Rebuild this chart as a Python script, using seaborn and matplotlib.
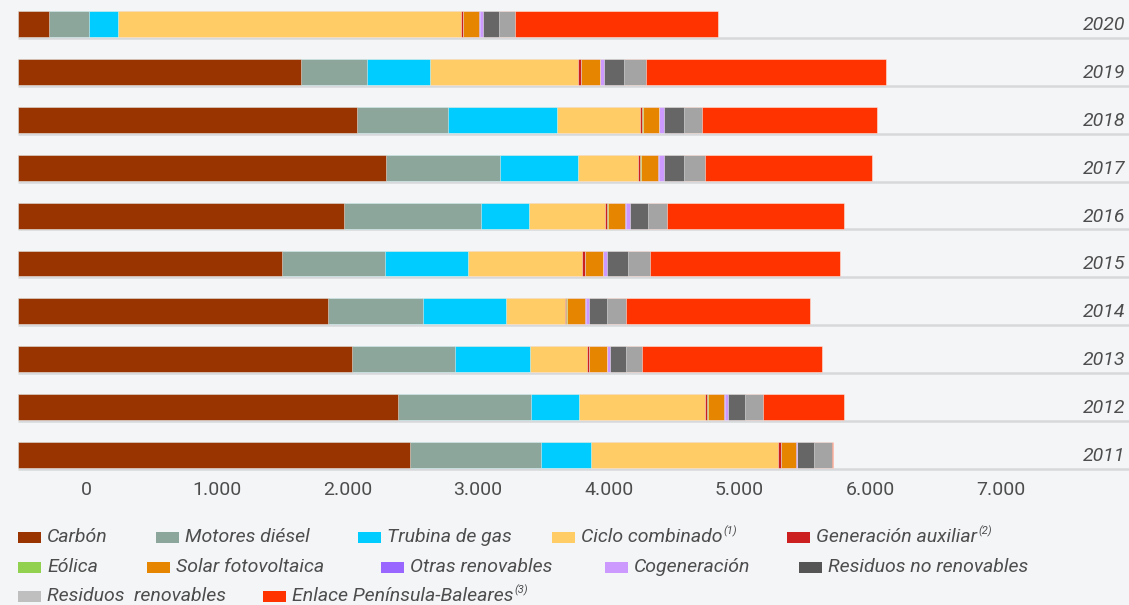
import numpy as np
import pandas as pd
import matplotlib
matplotlib.use("Agg")
import matplotlib.pyplot as plt
import matplotlib.transforms as mtransforms
from matplotlib.patches import Rectangle
import seaborn as sns

# years, top to bottom
years = ["2020", "2019", "2018", "2017", "2016", "2015", "2014", "2013", "2012", "2011"]

# GWh per source
carbon = [236, 2165, 2596, 2815, 2495, 2016, 2372, 2552, 2907, 2999]
diesel = [308, 505, 694, 869, 1045, 790, 725, 795, 1015, 1005]
gas = [224, 479, 830, 602, 373, 637, 633, 567, 370, 383]
ciclo = [2622, 1138, 641, 461, 580, 874, 457, 439, 966, 1427]
auxiliar = [12, 18, 13, 14, 13, 18, 8, 13, 13, 22]
eolica = [5, 5, 5, 5, 5, 5, 5, 5, 5, 5]
solar = [122, 140, 123, 132, 136, 132, 141, 132, 127, 114]
otras = [3, 3, 3, 3, 3, 3, 3, 3, 3, 3]
cogen = [22, 32, 40, 40, 31, 32, 23, 23, 23, 5]
resid_nr = [123, 154, 149, 154, 141, 162, 141, 123, 132, 127]
resid_r = [127, 162, 141, 158, 141, 163, 140, 123, 136, 136]
enlace = [1551, 1836, 1340, 1278, 1357, 1454, 1410, 1379, 624, 8]

series_names = ["Carbón", "Motores diésel", "Trubina de gas", "Ciclo combinado",
                "Generación auxiliar", "Eólica", "Solar fotovoltaica", "Otras renovables",
                "Cogeneración", "Residuos no renovables", "Residuos  renovables",
                "Enlace Península-Baleares"]
series_values = [carbon, diesel, gas, ciclo, auxiliar, eolica, solar, otras,
                 cogen, resid_nr, resid_r, enlace]
bar_colors = ["#993300", "#8ca69b", "#00ccff", "#ffcc66", "#cc2020", "#92d050",
              "#e68600", "#9966ff", "#cc99ff", "#666666", "#a4a4a4", "#ff3300"]
legend_colors = bar_colors[:9] + ["#555555", "#bfbfbf", "#ff3300"]
notes = {"Ciclo combinado": "(1)", "Generación auxiliar": "(2)",
         "Enlace Península-Baleares": "(3)"}

tick_values = [0, 1000, 2000, 3000, 4000, 5000, 6000, 7000]
tick_labels = ["0", "1.000", "2.000", "3.000", "4.000", "5.000", "6.000", "7.000"]

# ---- layout
W, H = 1129, 605
BG = "#f4f5f7"
TXT = "#4d4d4d"
AXIS_ZERO = 520   # tick "0" sits right of where the bars start in the original

sns.set_theme(style="white")
plt.rcParams["font.family"] = ["Roboto", "DejaVu Sans"]

fig = plt.figure(figsize=(W / 100, H / 100), dpi=100, facecolor=BG)
ax = fig.add_axes([0, 1 - 480 / H, 1, 480 / H], facecolor=BG)

df = pd.DataFrame({"year": years})
cum = np.zeros(len(years))
cum_cols = []
for name, vals in zip(series_names, series_values):
    cum = cum + np.array(vals, dtype=float)
    df[name] = cum
    cum_cols.append(name)

# thin shadow line under each bar row
for i in range(len(years)):
    ax.hlines(i + 0.29, 0, 9000, color="#d6d8db", lw=1.8, zorder=0)

# stacked bars: draw cumulative totals from the last source back to the first
for name, col in reversed(list(zip(cum_cols, bar_colors))):
    sns.barplot(data=df, x=name, y="year", orient="h", color=col, saturation=1,
                width=0.54, errorbar=None, ax=ax,
                edgecolor=(1, 1, 1, 0.45), linewidth=0.7)

ax.set_xlim(-138, 8500)
ax.set_ylim(9.52, -0.5)
ax.set_xticks([AXIS_ZERO + v for v in tick_values])
ax.set_xticklabels(tick_labels)
ax.tick_params(axis="x", length=0, pad=1, labelsize=14, labelcolor=TXT)
ax.set_yticks([])
ax.set_xlabel("")
ax.set_ylabel("")
for s in ax.spines.values():
    s.set_visible(False)

trans = mtransforms.blended_transform_factory(ax.transAxes, ax.transData)
for i, y in enumerate(years):
    ax.text(0.997, i + 0.02, y, transform=trans, ha="right", va="center",
            fontsize=14, style="italic", color=TXT)

# ---- legend (flow layout as in the original)
legend_rows = [
    (537.5, [(0, 18), (1, 156), (2, 358), (3, 552), (4, 787)]),
    (567, [(5, 18), (6, 147), (7, 381), (8, 605), (9, 799)]),
    (596, [(10, 18), (11, 263)]),
]
renderer = fig.canvas.get_renderer()
for ypx, items in legend_rows:
    for idx, xpx in items:
        fig.patches.append(Rectangle((xpx / W, 1 - (ypx + 5.5) / H), 23 / W, 11 / H,
                                     transform=fig.transFigure, color=legend_colors[idx],
                                     lw=0))
        name = series_names[idx]
        t = fig.text((xpx + 29) / W, 1 - ypx / H, name, ha="left", va="center",
                     fontsize=14, style="italic", color=TXT)
        if name in notes:
            bb = t.get_window_extent(renderer)
            fig.text(bb.x1 / W + 1 / W, 1 - (ypx - 6) / H, notes[name], ha="left",
                     va="center", fontsize=8, style="italic", color=TXT)

fig.savefig("out.png", dpi=100, facecolor=BG)
